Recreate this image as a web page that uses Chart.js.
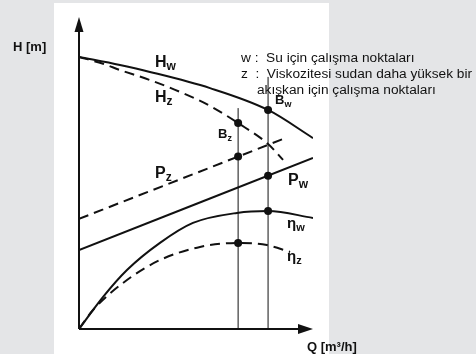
<!DOCTYPE html>
<html>
<head>
<meta charset="utf-8">
<script src="https://cdn.jsdelivr.net/npm/chart.js@4"></script>
<style>
  html, body { margin: 0; padding: 0; background: #e4e5e7; }
  canvas { display: block; }
</style>
</head>
<body>
<canvas id="pumpChart" width="476" height="354"></canvas>
<script>
// curve readings (Q and H in % of axis length)
const qHw = [0, 17.5, 30.3, 56.0, 80.8, 100];
const hHw = [87.2, 84.6, 82.4, 77.2, 70.2, 61.2];
const qHz = [0, 10.3, 17.5, 30.3, 44.4, 56.0, 68.0, 80.8, 87.2];
const hHz = [87.2, 85.0, 83.0, 79.8, 75.6, 71.5, 66.0, 59.3, 54.2];
const qPz = [0, 87.2];
const pPz = [35.3, 60.9];
const qPw = [0, 100];
const pPw = [25.3, 54.8];
const qEw = [0, 10.3, 20.5, 34.6, 48.7, 67.5, 80.8, 100];
const eEw = [0, 10.3, 18.9, 27.6, 34.0, 37.2, 37.8, 35.6];
const qEz = [0, 6, 20.5, 34.6, 51.7, 68, 80.3, 90.2];
const eEz = [0, 6.1, 15.7, 22.1, 26.3, 27.6, 26.9, 24.7];
// operating points
const qBz = 68, qBw = 80.8;
const opZ = [66.0, 55.3, 27.6];
const opW = [70.2, 49.1, 37.8];
const vLineTop = [70.8, 80.8];

function pts(xs, ys) {
  return xs.map((x, i) => ({x: x, y: ys[i]}));
}

const black = "#111";
function curve(xs, ys, dashed) {
  return {
    data: pts(xs, ys),
    showLine: true,
    borderColor: black,
    borderWidth: 2,
    borderDash: dashed ? [10, 6] : [],
    pointRadius: 0,
    cubicInterpolationMode: "monotone",
    fill: false
  };
}

const datasets = [
  curve(qHw, hHw, false),
  curve(qHz, hHz, true),
  curve(qPz, pPz, true),
  curve(qPw, pPw, false),
  curve(qEw, eEw, false),
  curve(qEz, eEz, true),
  {data: pts([qBz, qBz], [0, vLineTop[0]]), showLine: true, borderColor: black, borderWidth: 1, pointRadius: 0},
  {data: pts([qBw, qBw], [0, vLineTop[1]]), showLine: true, borderColor: black, borderWidth: 1, pointRadius: 0},
  {
    data: pts([qBz, qBz, qBz], opZ).concat(pts([qBw, qBw, qBw], opW)),
    showLine: false,
    pointRadius: 4,
    pointBackgroundColor: black,
    pointBorderWidth: 0
  }
];

const decor = {
  id: "decor",
  beforeDraw(chart) {
    const c = chart.ctx;
    c.save();
    c.fillStyle = "#e4e5e7";
    c.fillRect(0, 0, chart.width, chart.height);
    c.fillStyle = "#fff";
    c.fillRect(54, 3, 275, 351);
    c.restore();
  },
  afterDraw(chart) {
    const c = chart.ctx;
    const a = chart.chartArea;
    c.save();
    c.strokeStyle = black;
    c.fillStyle = black;
    c.lineWidth = 2;
    // axes
    c.beginPath();
    c.moveTo(a.left, a.bottom);
    c.lineTo(a.left, a.top + 10);
    c.moveTo(a.left, a.bottom);
    c.lineTo(a.right - 10, a.bottom);
    c.stroke();
    c.beginPath();
    c.moveTo(a.left, a.top);
    c.lineTo(a.left - 4.5, a.top + 15);
    c.lineTo(a.left + 4.5, a.top + 15);
    c.closePath();
    c.fill();
    c.beginPath();
    c.moveTo(a.right, a.bottom);
    c.lineTo(a.right - 15, a.bottom - 5);
    c.lineTo(a.right - 15, a.bottom + 5);
    c.closePath();
    c.fill();

    // axis titles
    c.font = "bold 13px 'Liberation Sans', Arial, sans-serif";
    c.textBaseline = "alphabetic";
    c.fillText("H [m]", 13, 51);
    c.fillText("Q [m\u00b3/h]", 307, 351);

    // curve labels
    function lab(main, sub, x, y, big) {
      c.font = "bold " + big + "px 'Liberation Sans', Arial, sans-serif";
      c.fillText(main, x, y);
      const w = c.measureText(main).width;
      c.font = "bold " + Math.round(big * 0.72) + "px 'Liberation Sans', Arial, sans-serif";
      c.fillText(sub, x + w, y + 3);
    }
    lab("H", "w", 155, 67, 16);
    lab("H", "z", 155, 102, 16);
    lab("B", "z", 218, 138, 13);
    lab("B", "w", 275, 104, 13);
    lab("P", "z", 155, 178, 16);
    lab("P", "w", 288, 185, 16);
    lab("\u03b7", "w", 287, 228, 15);
    lab("\u03b7", "z", 287, 261, 15);

    // legend text
    c.font = "13.7px 'Liberation Sans', Arial, sans-serif";
    c.fillText("w :  Su için çalışma noktaları", 241, 62);
    c.fillText("z  :  Viskozitesi sudan daha yüksek bir", 241, 78);
    c.fillText("akışkan için çalışma noktaları", 257, 94);
    c.restore();
  }
};

new Chart(document.getElementById("pumpChart"), {
  type: "scatter",
  data: {datasets: datasets},
  options: {
    responsive: false,
    animation: false,
    layout: {padding: {left: 79, right: 163, top: 17, bottom: 25}},
    plugins: {legend: {display: false}, tooltip: {enabled: false}},
    scales: {
      x: {type: "linear", min: 0, max: 100, display: false},
      y: {type: "linear", min: 0, max: 100, display: false}
    }
  },
  plugins: [decor]
});
</script>
</body>
</html>
